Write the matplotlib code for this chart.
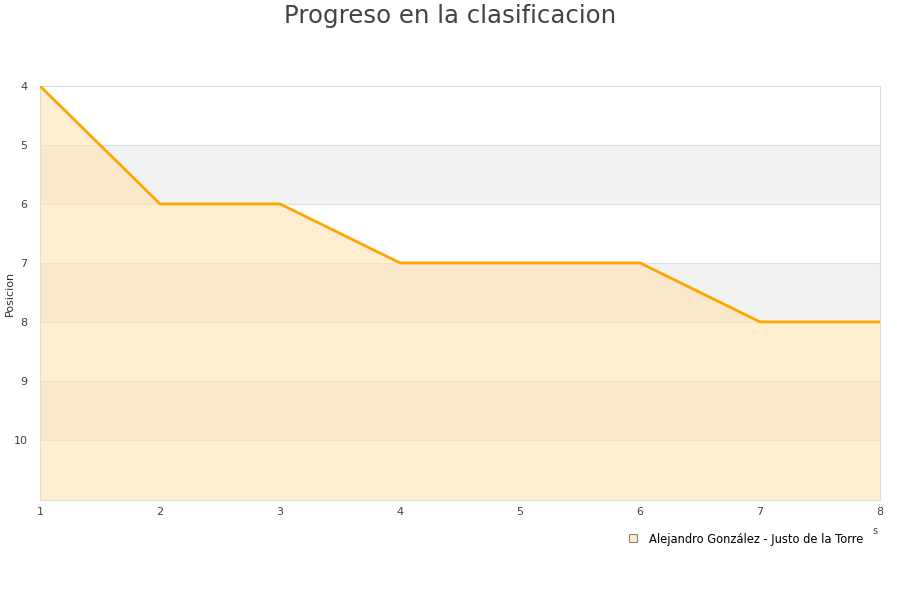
import matplotlib
matplotlib.use("Agg")
import matplotlib.pyplot as plt
from matplotlib.lines import Line2D

jornadas = [1, 2, 3, 4, 5, 6, 7, 8]
posiciones = [4, 6, 6, 7, 7, 7, 8, 8]
yticks = [4, 5, 6, 7, 8, 9, 10]
team = "Alejandro González - Justo de la Torre"
title = "Progreso en la clasificacion"
ylabel = "Posicion"

fig = plt.figure(figsize=(9, 6), dpi=100)
ax = fig.add_axes([40/900, 1-500/600, 840/900, 414/600])

ymin, ymax = 4, 11.02
ax.set_xlim(1, 8)
ax.set_ylim(ymax, ymin)

# alternating bands
for b in [5, 7, 9]:
    ax.axhspan(b, b + 1, color="#f2f2f2", zorder=0, lw=0)
for t in yticks[1:]:
    ax.axhline(t, color="#e0e0e0", lw=0.8, zorder=1)

ax.fill_between(jornadas, posiciones, ymax, color="#ffe4b0", alpha=0.6, lw=0, zorder=2)
ax.plot(jornadas, posiciones, color="#ffa500", lw=2.0, zorder=3)

ax.set_xticks(jornadas)
ax.set_yticks(yticks)
ax.tick_params(axis="both", length=0, labelsize=8, colors="#444444")
ax.tick_params(axis="y", pad=9)
ax.tick_params(axis="x", pad=5)
for s in ax.spines.values():
    s.set_color("#dddddd")
    s.set_linewidth(0.8)

ax.set_ylabel(ylabel, fontsize=8, color="#333333")
ax.yaxis.set_label_coords(-25/840, 0.5)

fig.text(0.5, 1-16/600, title, ha="center", va="center", fontsize=17.6, color="#444444")

handle = Line2D([], [], marker="s", linestyle="none", markersize=6,
                markerfacecolor="#ffedc8", markeredgecolor="#888888", markeredgewidth=0.8)
fig.legend([handle], [team], loc="center left", bbox_to_anchor=(621/900, 1-539/600),
           frameon=False, fontsize=8.3, handletextpad=0.4, borderaxespad=0, borderpad=0)
fig.text(875/900, 1-531/600, "s", fontsize=7, color="#444444", ha="center", va="center")

fig.savefig("out.png", dpi=100)
